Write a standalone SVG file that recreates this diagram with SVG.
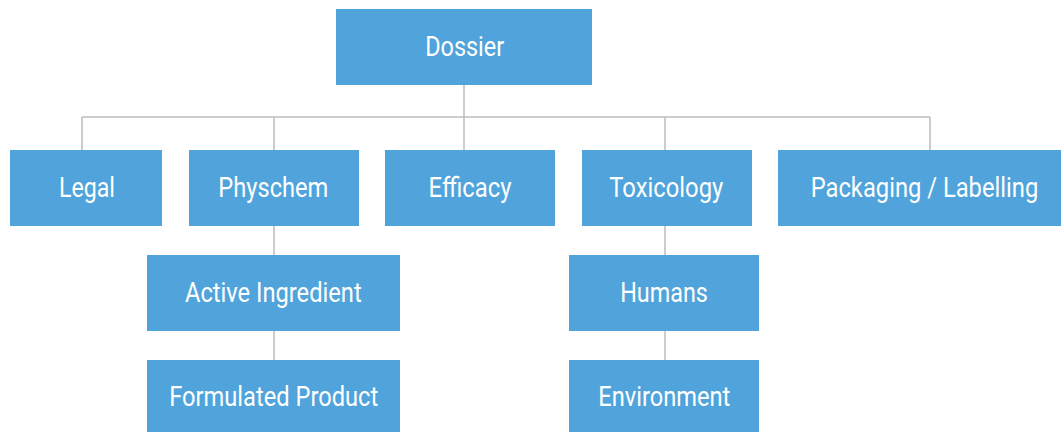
<svg xmlns="http://www.w3.org/2000/svg" width="1061" height="432" viewBox="0 0 1061 432">
<style>
.box{fill:#50A4DB;}
.lbl{font-family:Roboto,"Liberation Sans",sans-serif;font-size:28px;fill:#FFFFFF;text-anchor:middle;}
.con{stroke:#BDBDBD;stroke-width:1.5;fill:none;}
</style>
<rect width="1061" height="432" fill="#FFFFFF"/>
<g id="connectors">
<path class="con" d="M464 85V150M82 117H930M82 117V150M274 117V150M665 117V150M930 117V150"/>
<path class="con" d="M274 226V360M665 226V360"/>
</g>
<g id="dossier"><rect class="box" x="336" y="9" width="256" height="76"/><text class="lbl" x="464.7" y="56" textLength="79" lengthAdjust="spacingAndGlyphs">Dossier</text></g>
<g id="legal"><rect class="box" x="10" y="150" width="152" height="76"/><text class="lbl" x="87" y="197" textLength="56" lengthAdjust="spacingAndGlyphs">Legal</text></g>
<g id="physchem"><rect class="box" x="189" y="150" width="170" height="76"/><text class="lbl" x="273.3" y="197" textLength="110" lengthAdjust="spacingAndGlyphs">Physchem</text></g>
<g id="efficacy"><rect class="box" x="385" y="150" width="170" height="76"/><text class="lbl" x="470" y="197" textLength="83" lengthAdjust="spacingAndGlyphs">Efficacy</text></g>
<g id="toxicology"><rect class="box" x="582" y="150" width="170" height="76"/><text class="lbl" x="666.3" y="197" textLength="114" lengthAdjust="spacingAndGlyphs">Toxicology</text></g>
<g id="packaging"><rect class="box" x="778" y="150" width="283" height="76"/><text class="lbl" x="924.5" y="197" textLength="227.6" lengthAdjust="spacingAndGlyphs">Packaging / Labelling</text></g>
<g id="active"><rect class="box" x="147" y="255" width="253" height="76"/><text class="lbl" x="273.3" y="301.5" textLength="176.7" lengthAdjust="spacingAndGlyphs">Active Ingredient</text></g>
<g id="formulated"><rect class="box" x="147" y="360" width="253" height="76"/><text class="lbl" x="273.7" y="406" textLength="209" lengthAdjust="spacingAndGlyphs">Formulated Product</text></g>
<g id="humans"><rect class="box" x="569" y="255" width="190" height="76"/><text class="lbl" x="664" y="301.5" textLength="87.7" lengthAdjust="spacingAndGlyphs">Humans</text></g>
<g id="environment"><rect class="box" x="569" y="360" width="190" height="76"/><text class="lbl" x="664.3" y="406" textLength="132" lengthAdjust="spacingAndGlyphs">Environment</text></g>
</svg>
